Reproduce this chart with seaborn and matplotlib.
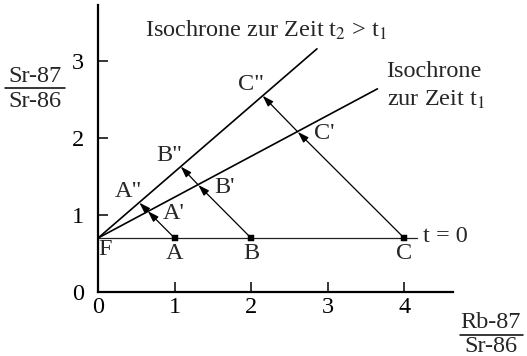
import matplotlib
matplotlib.use("Agg")
import matplotlib.pyplot as plt
import seaborn as sns
import pandas as pd
from matplotlib.lines import Line2D

# Rb-87/Sr-86 of the three samples and the common initial Sr ratio
sample_names = ["A", "B", "C"]
rb_sr = [1, 2, 4]
initial_ratio = [0.7, 0.7, 0.7]

# positions after time t1 and t2 (each moves along slope -1)
t1_names = ["A'", "B'", "C'"]
t1_x = [0.65, 1.31, 2.61]
t1_y = [1.05, 1.39, 2.08]
t2_names = ['A"', 'B"', 'C"']
t2_x = [0.54, 1.08, 2.15]
t2_y = [1.16, 1.63, 2.55]

# isochrone lines
iso0_x = [0, 4.17]
iso0_y = [0.7, 0.7]
iso1_x = [0, 3.65]
iso1_y = [0.7, 2.64]
iso2_x = [0, 2.86]
iso2_y = [0.7, 3.16]

x_ticks = [0, 1, 2, 3, 4]
y_ticks = [0, 1, 2, 3]

sns.set_theme(style="ticks")
plt.rcParams["font.family"] = ["Liberation Serif", "DejaVu Serif"]
plt.rcParams["mathtext.fontset"] = "stix"

fig = plt.figure(figsize=(5.27, 3.56), dpi=100)
ax = fig.add_axes([0.186, 0.180, 0.674, 0.806])

lines = pd.concat([
    pd.DataFrame({"x": iso1_x, "y": iso1_y, "line": "t1"}),
    pd.DataFrame({"x": iso2_x, "y": iso2_y, "line": "t2"}),
])
sns.lineplot(data=lines, x="x", y="y", units="line", estimator=None,
             color="black", linewidth=1.2, sort=False, ax=ax, legend=False)
sns.lineplot(x=iso0_x, y=iso0_y, color="#222222", linewidth=0.9, ax=ax,
             legend=False)

pts = pd.DataFrame({"x": rb_sr, "y": initial_ratio})
sns.scatterplot(data=pts, x="x", y="y", marker="s", s=16, color="black",
                edgecolor="black", ax=ax, legend=False, zorder=5)

arrow_kw = dict(arrowstyle="-|>,head_length=0.55,head_width=0.18",
                color="black", lw=0.9, shrinkA=0, shrinkB=0)
for x0, y0, x1, y1, x2, y2 in zip(rb_sr, initial_ratio, t1_x, t1_y, t2_x, t2_y):
    ax.annotate("", xy=(x1, y1), xytext=(x0, y0), arrowprops=arrow_kw)
    ax.annotate("", xy=(x2, y2), xytext=(x1, y1), arrowprops=arrow_kw)

fs = 17.5
for name, x, y in zip(sample_names, rb_sr, initial_ratio):
    ax.annotate(name, (x, y), xytext=(0, -11), textcoords="offset points",
                ha="center", va="center", fontsize=fs)
for name, x, y in zip(t1_names, t1_x, t1_y):
    ax.annotate(name, (x, y), xytext=(19, -1.5), textcoords="offset points",
                ha="center", va="center", fontsize=fs)
for name, x, y in zip(t2_names, t2_x, t2_y):
    ax.annotate(name, (x, y), xytext=(-8, 8), textcoords="offset points",
                ha="center", va="center", fontsize=fs)
ax.annotate("F", (0, 0.7), xytext=(5, -8), textcoords="offset points",
            ha="center", va="center", fontsize=fs)
ax.annotate("t = 0", (iso0_x[1], iso0_y[1]), xytext=(4, 1),
            textcoords="offset points", ha="left", va="center", fontsize=fs)

ax.text(0.61, 3.40, r"Isochrone zur Zeit t$_2$ > t$_1$", fontsize=fs,
        ha="left", va="center")
ax.text(3.77, 2.86, "Isochrone", fontsize=fs, ha="left", va="center")
ax.text(3.77, 2.50, r"zur Zeit t$_1$", fontsize=fs, ha="left", va="center")

ax.set_xlim(0, 4.64)
ax.set_ylim(0, 3.73)
ax.set_xticks(x_ticks)
ax.set_yticks(y_ticks)
ax.set_xlabel("")
ax.set_ylabel("")
ax.tick_params(direction="in", length=7, width=1.1, labelsize=fs,
               color="black", labelcolor="black")
ax.tick_params(axis="y", pad=10)
ax.tick_params(axis="x", pad=4)
for side in ("top", "right"):
    ax.spines[side].set_visible(False)
for side in ("left", "bottom"):
    ax.spines[side].set_linewidth(1.6)
    ax.spines[side].set_color("black")

# fraction labels for the axes
fig.text(35 / 527, 1 - 76 / 356, "Sr-87", fontsize=fs, ha="center", va="center")
fig.text(35 / 527, 1 - 101 / 356, "Sr-86", fontsize=fs, ha="center", va="center")
fig.add_artist(Line2D([5 / 527, 65 / 527], [1 - 88 / 356, 1 - 88 / 356],
                      color="black", lw=1.1, transform=fig.transFigure))
fig.text(491 / 527, 1 - 323 / 356, "Rb-87", fontsize=fs, ha="center", va="center")
fig.text(491 / 527, 1 - 346 / 356, "Sr-86", fontsize=fs, ha="center", va="center")
fig.add_artist(Line2D([460 / 527, 523 / 527], [1 - 335 / 356, 1 - 335 / 356],
                      color="black", lw=1.1, transform=fig.transFigure))

fig.savefig("out.png", dpi=100, facecolor="white")
